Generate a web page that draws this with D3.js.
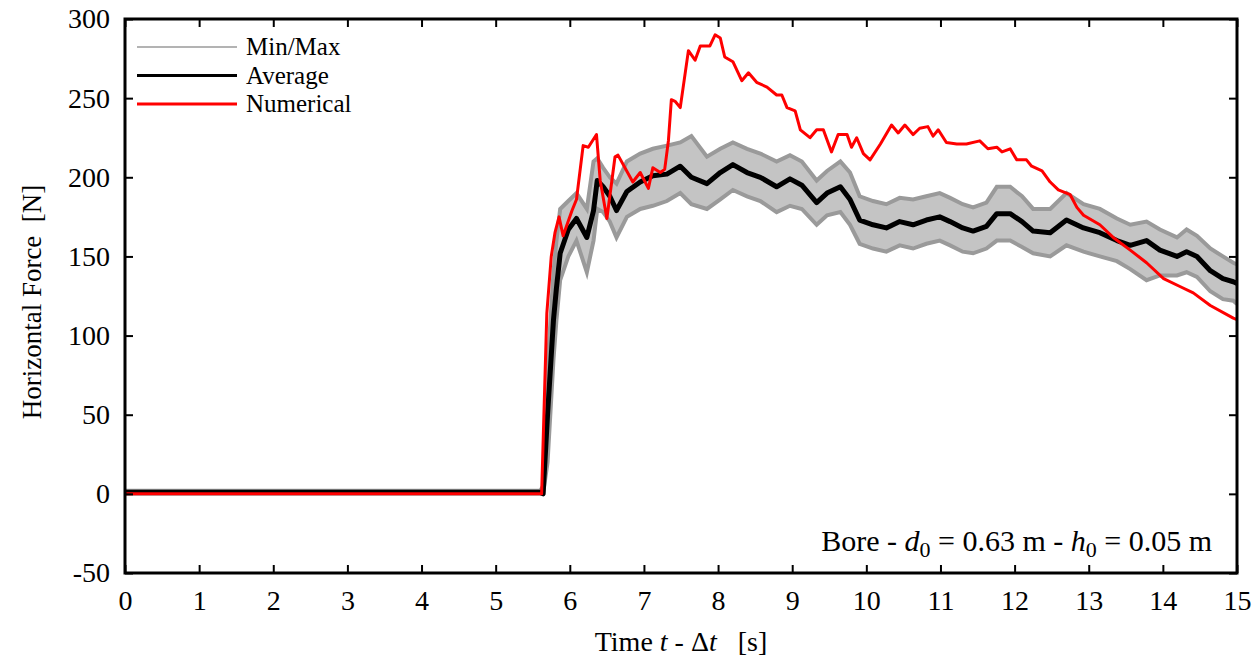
<!DOCTYPE html>
<html><head><meta charset="utf-8">
<script src="https://cdn.jsdelivr.net/npm/d3@7"></script>
<style>body{margin:0;background:#fff}svg{display:block}svg text{font-family:"Liberation Serif","Tinos","Times New Roman","DejaVu Serif",serif;fill:#000}</style>
</head><body><svg id="c" width="1259" height="662"></svg>
<script>
// Time grid for measured data (s)
const measT = [0,5.6,5.64,5.70,5.78,5.82,5.87,5.98,6.09,6.23,6.32,6.37,6.45,6.54,6.63,6.77,6.95,7.12,7.31,7.49,7.64,7.85,8.03,8.20,8.39,8.57,8.79,8.97,9.13,9.33,9.47,9.65,9.78,9.91,10.09,10.27,10.45,10.63,10.81,10.99,11.13,11.30,11.44,11.62,11.76,11.94,12.10,12.25,12.48,12.70,12.93,13.15,13.38,13.56,13.78,13.96,14.19,14.32,14.46,14.64,14.81,14.95,15.0];
// Average horizontal force (N)
const avgF = [1,1,0,50,110,130,152,167,174,162,179,198,194,188,179,191,197,201,202,207,200,196,203,208,203,200,194,199,195,184,190,194,186,173,170,168,172,170,173,175,172,168,166,169,177,177,172,166,165,173,168,165,160,157,160,154,150,153,150,141,136,134,133];
// Minimum force (N)
const minF = [0,0,0,20,85,110,135,150,160,140,160,180,178,172,162,175,180,182,185,190,183,180,186,192,188,185,178,182,180,170,176,178,170,158,155,153,157,155,158,160,157,153,152,155,160,160,156,152,150,157,153,150,147,142,135,138,138,140,137,128,123,122,120];
// Maximum force (N)
const maxF = [2,2,5,80,140,160,180,185,190,180,210,212,206,200,196,210,215,218,220,222,226,213,218,222,218,215,210,214,210,198,204,210,203,188,185,183,187,186,188,190,187,183,181,184,194,194,188,180,180,190,183,180,174,170,172,167,162,167,163,155,150,146,145];
// Numerical model
const numT = [0,5.55,5.62,5.69,5.75,5.80,5.855,5.91,6.03,6.09,6.18,6.25,6.36,6.41,6.50,6.61,6.65,6.85,6.95,7.06,7.12,7.22,7.28,7.33,7.37,7.42,7.49,7.60,7.69,7.76,7.89,7.96,8.03,8.09,8.20,8.32,8.41,8.52,8.66,8.79,8.86,8.93,9.04,9.11,9.24,9.33,9.42,9.53,9.62,9.74,9.80,9.87,9.96,10.05,10.19,10.34,10.43,10.52,10.63,10.72,10.83,10.90,10.97,11.08,11.22,11.35,11.53,11.64,11.76,11.83,11.94,12.03,12.16,12.23,12.37,12.48,12.59,12.75,12.84,12.93,13.15,13.33,13.56,13.78,14.01,14.23,14.41,14.64,14.95,15.0];
const numF = [0,0,0,114,150,165,175,163,179,186,220,219,227,198,174,213,214,197,203,193,206,203,205,223,249,248,244,280,274,283,283,290,288,276,273,261,266,260,257,252,252,244,242,230,225,230,230,216,227,227,219,225,215,211,221,233,228,233,227,231,232,226,230,222,221,221,223,218,219,216,218,211,211,207,204,197,192,189,181,176,170,162,154,146,136,131,127,119,111,110];
const xTicks = d3.range(0,16,1);
const yTicks = [-50,0,50,100,150,200,250,300];
const legendItems = ["Min/Max","Average","Numerical"];

const FONT = '"Liberation Serif","Tinos","Times New Roman","DejaVu Serif",serif';
const svg = d3.select("#c");
const L=125,R=1237,T=19,B=573;
const x = d3.scaleLinear().domain([0,15]).range([L,R]);
const y = d3.scaleLinear().domain([-50,300]).range([B,T]);

svg.append("defs").append("clipPath").attr("id","clip").append("rect")
  .attr("x",L).attr("y",T).attr("width",R-L).attr("height",B-T);
const g = svg.append("g").attr("clip-path","url(#clip)");

const meas = measT.map((t,i)=>({t,a:avgF[i],lo:minF[i],hi:maxF[i]}));
const num = numT.map((t,i)=>({t,v:numF[i]}));

g.append("path").datum(meas)
  .attr("d",d3.area().x(d=>x(d.t)).y0(d=>y(d.lo)).y1(d=>y(d.hi)))
  .attr("fill","#c4c4c4");
["lo","hi"].forEach(k=>{
  g.append("path").datum(meas)
   .attr("d",d3.line().x(d=>x(d.t)).y(d=>y(d[k])))
   .attr("fill","none").attr("stroke","#9a9a9a").attr("stroke-width",4);
});
g.append("path").datum(meas)
  .attr("d",d3.line().x(d=>x(d.t)).y(d=>y(d.a)))
  .attr("fill","none").attr("stroke","#000").attr("stroke-width",5).attr("stroke-linejoin","round");
g.append("path").datum(num)
  .attr("d",d3.line().x(d=>x(d.t)).y(d=>y(d.v)))
  .attr("fill","none").attr("stroke","#ff0000").attr("stroke-width",3).attr("stroke-linejoin","round");

// axes
const tl=8;
const fmt = d => String(d);
const ax = svg.append("g");
ax.append("g").attr("transform",`translate(0,${B})`)
  .call(d3.axisBottom(x).tickValues(xTicks).tickSizeInner(-tl).tickSizeOuter(0).tickPadding(17).tickFormat(fmt));
ax.append("g").attr("transform",`translate(0,${T})`)
  .call(d3.axisTop(x).tickValues(xTicks).tickSizeInner(-tl).tickSizeOuter(0).tickFormat(""));
ax.append("g").attr("transform",`translate(${L},0)`)
  .call(d3.axisLeft(y).tickValues(yTicks).tickSizeInner(-tl).tickSizeOuter(0).tickPadding(15).tickFormat(fmt));
ax.append("g").attr("transform",`translate(${R},0)`)
  .call(d3.axisRight(y).tickValues(yTicks).tickSizeInner(-tl).tickSizeOuter(0).tickFormat(""));
ax.selectAll("g").attr("font-family",FONT);
ax.selectAll(".domain").remove();
ax.selectAll(".tick line").attr("stroke","#000").attr("stroke-width",2);
ax.selectAll(".tick text").attr("font-size",28).attr("font-family",FONT).attr("fill","#000");
svg.append("rect").attr("x",L).attr("y",T).attr("width",R-L).attr("height",B-T)
  .attr("fill","none").attr("stroke","#000").attr("stroke-width",3);

// titles
svg.append("text").attr("x",681).attr("y",651).attr("text-anchor","middle").attr("font-size",28).attr("font-family",FONT)
  .attr("xml:space","preserve")
  .html('Time <tspan font-style="italic">t</tspan> - Δ<tspan font-style="italic">t</tspan>   [s]');
svg.append("text").attr("transform","translate(41,302) rotate(-90)").attr("text-anchor","middle").attr("font-size",27).attr("font-family",FONT)
  .attr("xml:space","preserve").text("Horizontal Force  [N]");

// annotation
svg.append("text").attr("x",1212).attr("y",551).attr("text-anchor","end").attr("font-size",30).attr("font-family",FONT)
  .html('Bore - <tspan font-style="italic">d</tspan><tspan dy="6" font-size="22">0</tspan><tspan dy="-6"> = 0.63 m - </tspan><tspan font-style="italic">h</tspan><tspan dy="6" font-size="22">0</tspan><tspan dy="-6"> = 0.05 m</tspan>');

// legend
const lg = svg.append("g");
const lstyles=[{c:"#9a9a9a",w:1.5},{c:"#000",w:3},{c:"#ff0000",w:3}];
legendItems.forEach((s,i)=>{
  const yy = 47 + i*28.5;
  lg.append("line").attr("x1",137).attr("x2",237).attr("y1",yy).attr("y2",yy)
    .attr("stroke",lstyles[i].c).attr("stroke-width",lstyles[i].w);
  lg.append("text").attr("x",246).attr("y",yy+8).attr("font-size",25).attr("font-family",FONT).text(s);
});
</script></body></html>
